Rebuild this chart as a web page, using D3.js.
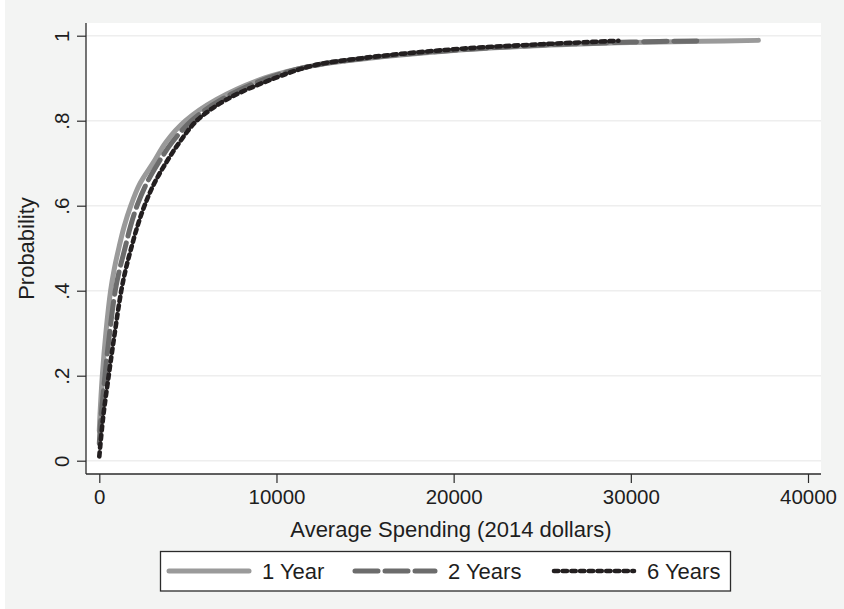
<!DOCTYPE html>
<html>
<head>
<meta charset="utf-8">
<script src="https://cdn.jsdelivr.net/npm/d3@7"></script>
<style>
  html, body { margin: 0; padding: 0; background: #fff; }
  svg { display: block; font-family: "Liberation Sans", Arial, Helvetica, sans-serif; }
</style>
</head>
<body>
<svg width="844" height="609"></svg>
<script>
// data
const seriesNames = ["1 Year", "2 Years", "6 Years"];

const spend1 = [0, 30, 170, 370, 640, 840, 1100, 1395, 1780, 2270, 3030, 3770, 4870, 6620, 9300, 12000, 15000, 20000, 25000, 30000, 34000, 37200];
const prob1 = [0.07, 0.10, 0.20, 0.30, 0.40, 0.45, 0.50, 0.55, 0.60, 0.65, 0.70, 0.75, 0.80, 0.85, 0.90, 0.929, 0.946, 0.965, 0.977, 0.984, 0.987, 0.989];

const spend2 = [0, 90, 320, 580, 900, 1145, 1450, 1750, 2130, 2640, 3320, 4120, 5210, 6900, 9500, 12000, 15000, 20000, 25000, 30000, 34100];
const prob2 = [0.04, 0.10, 0.20, 0.30, 0.40, 0.45, 0.50, 0.55, 0.60, 0.65, 0.70, 0.75, 0.80, 0.85, 0.90, 0.929, 0.947, 0.966, 0.978, 0.985, 0.988];

const spend6 = [0, 210, 530, 870, 1240, 1490, 1800, 2140, 2550, 3070, 3750, 4540, 5500, 7190, 9900, 12000, 15000, 20000, 25000, 29300];
const prob6 = [0.01, 0.10, 0.20, 0.30, 0.40, 0.45, 0.50, 0.55, 0.60, 0.65, 0.70, 0.75, 0.80, 0.85, 0.90, 0.929, 0.948, 0.968, 0.980, 0.988];

const xTicks = [0, 10000, 20000, 30000, 40000];
const yTicks = [0, 0.2, 0.4, 0.6, 0.8, 1];
const yTickLabels = ["0", ".2", ".4", ".6", ".8", "1"];

const BG = "#f3f4f3";
const AXIS_COLOR = "#2b2b2b";
const TEXT_COLOR = "#1e1e1e";
const GRID_COLOR = "#eeeeee";
const FONT = "Liberation Sans, Arial, sans-serif";

// plot region
const plot = { left: 86, right: 821, top: 23, bottom: 474 };

const svg = d3.select("svg");

svg.append("rect").attr("width", 844).attr("height", 609).attr("fill", BG);
svg.append("rect").attr("width", 5).attr("height", 609).attr("fill", "#fff");

svg.append("rect")
  .attr("x", plot.left).attr("y", plot.top)
  .attr("width", plot.right - plot.left).attr("height", plot.bottom - plot.top)
  .attr("fill", "#fff");

const x = d3.scaleLinear().domain([0, 40000]).range([99.3, 808]);
const y = d3.scaleLinear().domain([0, 1]).range([460.7, 35.7]);

// grid
svg.append("g")
  .selectAll("line")
  .data(yTicks)
  .enter()
  .append("line")
  .attr("x1", plot.left)
  .attr("x2", plot.right)
  .attr("y1", (d) => y(d))
  .attr("y2", (d) => y(d))
  .attr("stroke", GRID_COLOR)
  .attr("stroke-width", 1.5);

// series
const series = [
  { name: seriesNames[0], xs: spend1, ys: prob1, color: "#9a9a9a", width: 5, dash: null },
  { name: seriesNames[1], xs: spend2, ys: prob2, color: "#6c6c6c", width: 5, dash: "23,7" },
  { name: seriesNames[2], xs: spend6, ys: prob6, color: "#231f20", width: 4.6, dash: "4.3,4.4" },
];

const line = d3.line()
  .x((d) => x(d[0]))
  .y((d) => y(d[1]))
  .curve(d3.curveCatmullRom.alpha(0.5));

svg.append("g")
  .selectAll("path")
  .data(series)
  .enter()
  .append("path")
  .attr("d", (s) => line(s.xs.map((v, i) => [v, s.ys[i]])))
  .attr("fill", "none")
  .attr("stroke", (s) => s.color)
  .attr("stroke-width", (s) => s.width)
  .attr("stroke-dasharray", (s) => s.dash)
  .attr("stroke-linecap", "round")
  .attr("stroke-linejoin", "round");

// axes
const xAxis = svg.append("g")
  .attr("transform", `translate(0,${plot.bottom})`)
  .call(d3.axisBottom(x).tickValues(xTicks).tickSize(9).tickPadding(6).tickFormat(d3.format("d")));
xAxis.select(".domain").remove();
xAxis.selectAll("line").attr("stroke", AXIS_COLOR).attr("stroke-width", 1.2);
xAxis.selectAll("text")
  .attr("font-size", 20.5)
  .attr("font-family", FONT)
  .attr("fill", TEXT_COLOR);

const yAxis = svg.append("g")
  .attr("transform", `translate(${plot.left},0)`)
  .call(d3.axisLeft(y).tickValues(yTicks).tickSize(9).tickFormat((d, i) => yTickLabels[i]));
yAxis.select(".domain").remove();
yAxis.selectAll("line").attr("stroke", AXIS_COLOR).attr("stroke-width", 1.2);
yAxis.selectAll("text")
  .attr("transform", "rotate(-90)")
  .attr("x", 0)
  .attr("y", -17)
  .attr("dy", 0)
  .attr("text-anchor", "middle")
  .attr("font-size", 20.5)
  .attr("font-family", FONT)
  .attr("fill", TEXT_COLOR);

svg.append("line")
  .attr("x1", plot.left).attr("x2", plot.right)
  .attr("y1", plot.bottom).attr("y2", plot.bottom)
  .attr("stroke", AXIS_COLOR).attr("stroke-width", 1.3);
svg.append("line")
  .attr("x1", plot.left).attr("x2", plot.left)
  .attr("y1", plot.top).attr("y2", plot.bottom)
  .attr("stroke", AXIS_COLOR).attr("stroke-width", 1.3);

// axis titles
svg.append("text")
  .attr("x", 451)
  .attr("y", 537)
  .attr("text-anchor", "middle")
  .attr("font-size", 22)
  .attr("fill", TEXT_COLOR)
  .text("Average Spending (2014 dollars)");

svg.append("text")
  .attr("transform", `translate(34,${(plot.top + plot.bottom) / 2}) rotate(-90)`)
  .attr("text-anchor", "middle")
  .attr("font-size", 22)
  .attr("fill", TEXT_COLOR)
  .text("Probability");

// legend
const legend = svg.append("g");
legend.append("rect")
  .attr("x", 160.5).attr("y", 551.5)
  .attr("width", 570).attr("height", 39.5)
  .attr("fill", "#fff")
  .attr("stroke", AXIS_COLOR)
  .attr("stroke-width", 1.3);

const legendX = [167, 353, 552];
const item = legend.selectAll(".item")
  .data(series)
  .enter()
  .append("g")
  .attr("class", "item")
  .attr("transform", (d, i) => `translate(${legendX[i]},571)`);

item.append("line")
  .attr("x1", 2).attr("x2", 82)
  .attr("stroke", (s) => s.color)
  .attr("stroke-width", (s) => s.width)
  .attr("stroke-dasharray", (s) => s.dash)
  .attr("stroke-linecap", "round");

item.append("text")
  .attr("x", 95)
  .attr("y", 7.5)
  .attr("font-size", 22)
  .attr("fill", TEXT_COLOR)
  .text((s) => s.name);
</script>
</body>
</html>
